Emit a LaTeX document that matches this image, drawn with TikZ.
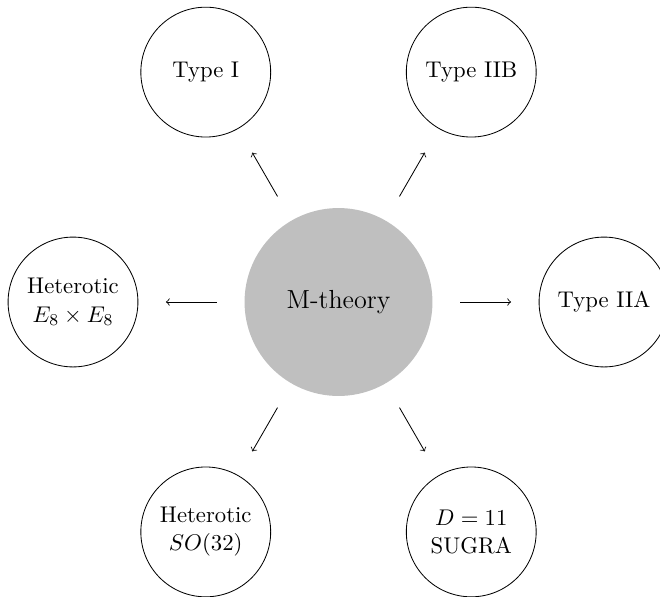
\RequirePackage{fix-cm}
\documentclass[tikz,border=0pt]{standalone}
\usepackage{fontspec}
\begin{document}
\begin{tikzpicture}[x=0.48213pt,y=-0.48213pt,
  outer/.style={circle,draw,line width=0.4pt,minimum size=62.6pt,inner sep=0pt,align=center,font=\fontsize{10.95}{13.6}\selectfont},
  core/.style={circle,fill=gray!50,minimum size=90.6pt,inner sep=0pt,font=\fontsize{12.6}{15}\selectfont},
  link/.style={->,shorten <=13.3pt,shorten >=13.3pt}]
\useasboundingbox (0,0) rectangle (660,596);
\node[core] (M) at (338.5,302) {M-theory};
\node[outer] (IIA) at (604,302) {Type IIA};
\node[outer] (IIB) at (471.25,72.1) {Type IIB};
\node[outer] (I) at (205.75,72.1) {Type I};
\node[outer] (HE) at (73,302) {Heterotic\\$E_8\times E_8$};
\node[outer] (HO) at (205.75,531.9) {Heterotic\\$SO(32)$};
\node[outer] (D) at (471.25,531.9) {$D=11$\\SUGRA};
\foreach \t in {IIA,IIB,I,HE,HO,D} \draw[link] (M) -- (\t);
\end{tikzpicture}
\end{document}
